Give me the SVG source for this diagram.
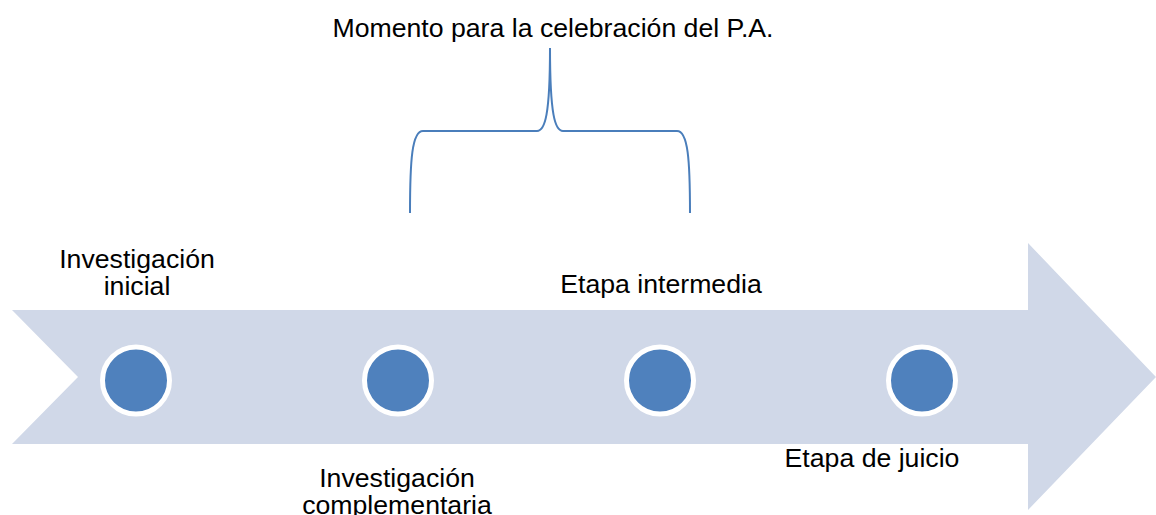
<svg xmlns="http://www.w3.org/2000/svg" width="1156" height="515" viewBox="0 0 1156 515">
<style>
.lbl{font-family:"Liberation Sans",Arial,sans-serif;font-size:26.67px;fill:#000;text-anchor:middle}
.dot{fill:#4F81BD;stroke:#fff;stroke-width:5}
.brace{fill:none;stroke:#4A7EBB;stroke-width:2}
</style>
<rect width="1156" height="515" fill="#fff"/>
<g id="arrow">
<path d="M12,310 L1028,310 L1028,243 L1156,377 L1028,510 L1028,444 L12,444 L78,377 Z" fill="#D0D8E8"/>
</g>
<g id="connectors">
<path class="brace" d="M410,213 C410,160 412,131 423,131 L537,131 C545,131 550,115 550,48 C550,115 555,131 563,131 L677,131 C688,131 690,160 690,213"/>
</g>
<g id="node-inicial">
<circle class="dot" cx="136" cy="380.5" r="33.5"/>
<text class="lbl" x="137" y="268">Investigación</text>
<text class="lbl" x="137" y="295">inicial</text>
</g>
<g id="node-complementaria">
<circle class="dot" cx="398" cy="380.5" r="33.5"/>
<text class="lbl" x="397" y="487">Investigación</text>
<text class="lbl" x="397" y="514">complementaria</text>
</g>
<g id="node-intermedia">
<circle class="dot" cx="660" cy="380.5" r="33.5"/>
<text class="lbl" x="661" y="293">Etapa intermedia</text>
</g>
<g id="node-juicio">
<circle class="dot" cx="922" cy="380.5" r="33.5"/>
<text class="lbl" x="872" y="467">Etapa de juicio</text>
</g>
<g id="label-momento">
<text class="lbl" x="553" y="37">Momento para la celebración del P.A.</text>
</g>
</svg>
